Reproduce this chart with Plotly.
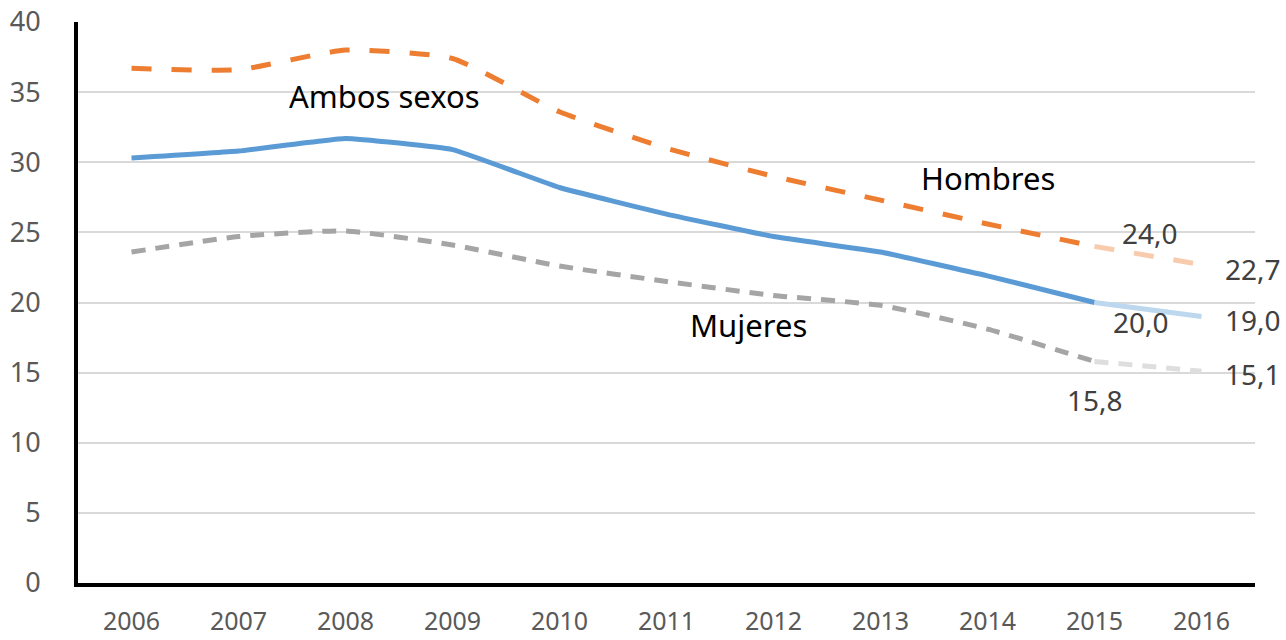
import plotly.graph_objects as go

years = [2006, 2007, 2008, 2009, 2010, 2011, 2012, 2013, 2014, 2015, 2016]
ambos = [30.3, 30.8, 31.7, 30.9, 28.2, 26.3, 24.7, 23.6, 21.9, 20.0, 19.0]
hombres = [36.7, 36.6, 38.0, 37.4, 33.6, 31.0, 29.0, 27.3, 25.6, 24.0, 22.7]
mujeres = [23.6, 24.7, 25.1, 24.1, 22.6, 21.5, 20.5, 19.8, 18.1, 15.8, 15.1]
y_ticks = [0, 5, 10, 15, 20, 25, 30, 35, 40]

def fmt(v):
    return f"{v:.1f}".replace(".", ",")

fig = go.Figure()

series = [
    (hombres, "#ED7D31", "#F8CBAD", "20px,20px", 0.5),
    (ambos, "#5B9BD5", "#BDD7EE", "solid", 0.3),
    (mujeres, "#A5A5A5", "#DEDEDE", "14px,10px", 0.5),
]
for vals, c, cl, dash, sm in series:
    fig.add_trace(go.Scatter(x=years[:10], y=vals[:10], mode="lines",
                             line=dict(color=c, width=5, dash=dash, shape="spline", smoothing=sm),
                             showlegend=False, hoverinfo="skip", cliponaxis=False))
    fig.add_trace(go.Scatter(x=years[9:], y=vals[9:], mode="lines",
                             line=dict(color=cl, width=5, dash=dash),
                             showlegend=False, hoverinfo="skip", cliponaxis=False))

lab_font = dict(family="Noto Sans", size=28, color="#404040")
# data labels
fig.add_annotation(x=years[9], y=hombres[9], text=fmt(hombres[9]), showarrow=False, xshift=55, yshift=13, font=lab_font)
fig.add_annotation(x=years[10], y=hombres[10], text=fmt(hombres[10]), showarrow=False, xshift=51, yshift=-4, font=lab_font)
fig.add_annotation(x=years[9], y=ambos[9], text=fmt(ambos[9]), showarrow=False, xshift=46, yshift=-19, font=lab_font)
fig.add_annotation(x=years[10], y=ambos[10], text=fmt(ambos[10]), showarrow=False, xshift=51, yshift=-3, font=lab_font)
fig.add_annotation(x=years[10], y=mujeres[10], text=fmt(mujeres[10]), showarrow=False, xshift=51, yshift=-3, font=lab_font)
fig.add_annotation(x=years[9], y=mujeres[9], text=fmt(mujeres[9]), showarrow=False, xshift=0, yshift=-39, font=lab_font)

name_font = dict(family="Noto Sans", size=31, color="#000000")
fig.add_annotation(x=2008.36, y=34.7, text="Ambos sexos", showarrow=False, font=name_font)
fig.add_annotation(x=2014.0, y=28.9, text="Hombres", showarrow=False, font=name_font)
fig.add_annotation(x=2011.77, y=18.4, text="Mujeres", showarrow=False, font=name_font)

fig.update_layout(
    width=1286, height=640,
    margin=dict(l=78, r=31, t=22, b=57, autoexpand=False),
    plot_bgcolor="white", paper_bgcolor="white",
    font=dict(family="Noto Sans", size=27, color="#595959"),
)
fig.update_xaxes(range=[2005.5, 2016.5], tickvals=years, ticktext=[str(y) for y in years],
                 showgrid=False, showline=True, linecolor="black", linewidth=4,
                 ticks="outside", ticklen=13, tickcolor="rgba(0,0,0,0)", zeroline=False,
                 automargin=False, tickfont=dict(size=25, color="#595959"))
fig.update_yaxes(range=[0, 40], tickvals=y_ticks, showgrid=True, gridcolor="#D9D9D9", gridwidth=1.5,
                 showline=True, linecolor="black", linewidth=4, zeroline=False,
                 ticks="outside", ticklen=28, tickcolor="rgba(0,0,0,0)",
                 automargin=False, tickfont=dict(size=27, color="#595959"))

fig.write_html("out.html", config={"displayModeBar": False},
               post_script="document.body.style.margin='0px';document.body.style.overflow='hidden';")
